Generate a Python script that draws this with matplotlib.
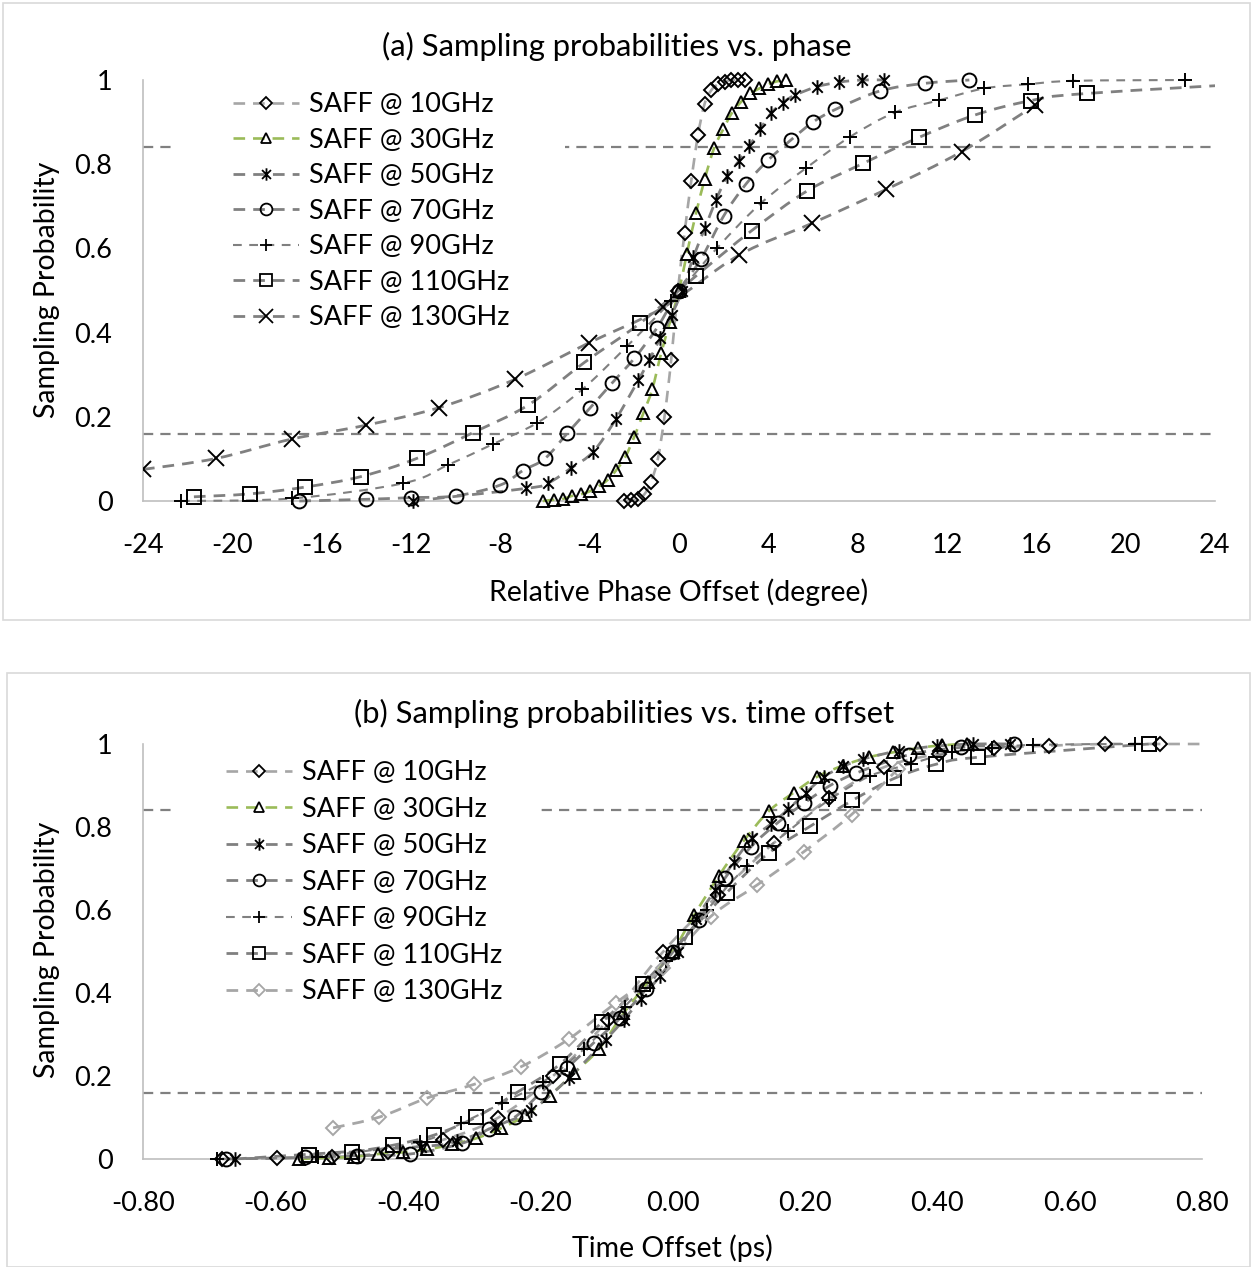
import numpy as np
import matplotlib
matplotlib.use("Agg")
import matplotlib.pyplot as plt
from matplotlib.path import Path
from matplotlib.patches import PathPatch, Rectangle
from matplotlib.lines import Line2D

plt.rcParams['font.family'] = ['Lato', 'DejaVu Sans']
plt.rcParams['axes.unicode_minus'] = False

# ---------------- data ----------------
freqs_ghz = [10, 30, 50, 70, 90, 110, 130]

phase_10 = [-2.45, -2.15, -1.85, -1.55, -1.25, -0.95, -0.65, -0.35, -0.05, 0.25,
            0.55, 0.85, 1.15, 1.45, 1.75, 2.05, 2.35, 2.65, 2.95]
prob_10 = [0.0, 0.002, 0.005, 0.016, 0.046, 0.099, 0.2, 0.335, 0.5, 0.637,
           0.761, 0.869, 0.944, 0.976, 0.99, 0.996, 1.0, 1.0, 1.0]

phase_30 = [-6.1, -5.6, -5.2, -4.8, -4.4, -4.0, -3.6, -3.2, -2.8, -2.4, -2.0,
            -1.6, -1.2, -0.8, -0.4, 0.0, 0.35, 0.76, 1.16, 1.57, 1.98, 2.36,
            2.78, 3.2, 3.6, 4.0, 4.4, 4.8]
prob_30 = [0.0, 0.003, 0.005, 0.012, 0.016, 0.023, 0.035, 0.05, 0.074, 0.105,
           0.153, 0.208, 0.265, 0.351, 0.426, 0.5, 0.587, 0.683, 0.766, 0.838,
           0.883, 0.921, 0.948, 0.968, 0.98, 0.99, 0.997, 1.0]

phase_50 = [-11.9, -6.83, -5.85, -4.84, -3.84, -2.82, -1.82, -1.33, -0.85,
            -0.33, 0.15, 0.64, 1.16, 1.66, 2.17, 2.69, 3.15, 3.63, 4.12, 4.64,
            5.19, 6.17, 7.18, 8.18, 9.18]
prob_50 = [0.0, 0.03, 0.043, 0.078, 0.117, 0.195, 0.287, 0.335, 0.386, 0.442,
           0.5, 0.579, 0.648, 0.715, 0.773, 0.808, 0.843, 0.883, 0.921, 0.946,
           0.964, 0.984, 0.995, 1.0, 1.0]

phase_70 = [-17, -14, -12, -10, -8, -7, -6, -5, -4, -3, -2, -1, 0, 1, 2, 3, 4,
            5, 6, 7, 9, 11, 13]
prob_70 = [0.0, 0.004, 0.008, 0.012, 0.038, 0.072, 0.101, 0.161, 0.22, 0.28,
           0.339, 0.41, 0.5, 0.576, 0.677, 0.753, 0.81, 0.857, 0.9, 0.93,
           0.974, 0.992, 1.0]

phase_90 = [-22.3, -17.35, -12.35, -10.33, -8.34, -6.34, -4.33, -2.34, -0.34,
            1.69, 3.66, 5.67, 7.66, 9.67, 11.66, 13.66, 15.64, 17.66, 22.66]
prob_90 = [0.0, 0.006, 0.042, 0.086, 0.135, 0.186, 0.265, 0.367, 0.476, 0.6,
           0.707, 0.79, 0.865, 0.923, 0.952, 0.98, 0.99, 0.998, 1.0]

phase_110 = [-21.72, -19.2, -16.75, -14.24, -11.75, -9.24, -6.75, -4.24,
             -1.75, 0.75, 3.25, 5.75, 8.25, 10.76, 13.26, 15.75, 18.26, 28.5]
prob_110 = [0.01, 0.017, 0.033, 0.058, 0.101, 0.162, 0.228, 0.329, 0.422,
            0.534, 0.642, 0.737, 0.802, 0.864, 0.917, 0.951, 0.968, 1.0]

phase_130 = [-24.0, -20.73, -17.35, -14.02, -10.73, -7.34, -4.02, -0.7, 2.69,
             5.97, 9.27, 12.66, 15.94]
prob_130 = [0.075, 0.101, 0.147, 0.18, 0.222, 0.289, 0.376, 0.46, 0.584,
            0.66, 0.74, 0.83, 0.94]

phases = [phase_10, phase_30, phase_50, phase_70, phase_90, phase_110, phase_130]
probs = [prob_10, prob_30, prob_50, prob_70, prob_90, prob_110, prob_130]

# 16% / 84% reference levels
ref_levels = [0.16, 0.84]

phase_ticks = list(range(-24, 25, 4))
time_ticks = [-0.8, -0.6, -0.4, -0.2, 0.0, 0.2, 0.4, 0.6, 0.8]
prob_ticks = [0, 0.2, 0.4, 0.6, 0.8, 1.0]
prob_ticklabels = ["0", "0.2", "0.4", "0.6", "0.8", "1"]

# ---------------- styles ----------------
W, H = 1253, 1267
GRAY = "#808080"
LIGHT = "#A6A6A6"
GREEN = "#9BBB59"
TICK_FS = 19.5
LEG_FS = 19.5
LABEL_FS = 20.5
TITLE_FS = 22.3

star = Path([(0, -1), (0, 1), (-0.72, -0.72), (0.72, 0.72), (-0.72, 0.72), (0.72, -0.72)],
            [Path.MOVETO, Path.LINETO, Path.MOVETO, Path.LINETO, Path.MOVETO, Path.LINETO])

series_style = [
    dict(color=LIGHT, lw=1.9, dash=(4.4, 3.0), marker="D", ms=7),
    dict(color=GREEN, lw=1.9, dash=(4.4, 3.0), marker="^", ms=9),
    dict(color=GRAY, lw=2.0, dash=(4.2, 2.9), marker=star, ms=10.5),
    dict(color=GRAY, lw=2.0, dash=(4.2, 2.9), marker="o", ms=10),
    dict(color=GRAY, lw=1.5, dash=(4.2, 3.6), marker="+", ms=10.5),
    dict(color=GRAY, lw=2.0, dash=(4.2, 2.9), marker="s", ms=10),
    dict(color=GRAY, lw=2.0, dash=(4.2, 2.9), marker="x", ms=12),
]


def smooth_path(x, y):
    """Cubic Bezier path through the points (Catmull-Rom style smoothing)."""
    pts = np.column_stack([x, y]).astype(float)
    n = len(pts)
    verts = [pts[0]]
    codes = [Path.MOVETO]
    for i in range(n - 1):
        p0 = pts[i - 1] if i > 0 else pts[i]
        p1 = pts[i]
        p2 = pts[i + 1]
        p3 = pts[i + 2] if i + 2 < n else pts[i + 1]
        verts += [p1 + (p2 - p0) / 6.0, p2 - (p3 - p1) / 6.0, p2]
        codes += [Path.CURVE4] * 3
    return Path(verts, codes)


def to_ps(phase_deg, f_ghz):
    return np.asarray(phase_deg, float) * 1000.0 / (360.0 * f_ghz)


fig = plt.figure(figsize=(W / 100, H / 100), dpi=100)

# chart-area borders
fig.patches.append(Rectangle((3 / W, 1 - 620 / H), 1247 / W, 617 / H,
                             transform=fig.transFigure, fill=False,
                             edgecolor="#D9D9D9", linewidth=1.2))
fig.patches.append(Rectangle((7 / W, 0), 1243 / W, 1 - 673 / H,
                             transform=fig.transFigure, fill=False,
                             edgecolor="#D9D9D9", linewidth=1.2))


def setup_axes(rect_px, xlim, xticks, xticklabels):
    l, t, r, b = rect_px
    ax = fig.add_axes([l / W, 1 - b / H, (r - l) / W, (b - t) / H])
    ax.set_xlim(*xlim)
    ax.set_ylim(0, 1)
    for s in ("top", "right"):
        ax.spines[s].set_visible(False)
    for s in ("left", "bottom"):
        ax.spines[s].set_color("#BFBFBF")
        ax.spines[s].set_linewidth(1.2)
    ax.set_xticks(xticks)
    ax.set_xticklabels(xticklabels)
    ax.set_yticks(prob_ticks)
    ax.set_yticklabels(prob_ticklabels)
    ax.tick_params(axis="both", length=0, labelsize=TICK_FS)
    ax.tick_params(axis="y", pad=22)
    ax.tick_params(axis="x", pad=23)
    return ax


def draw_panel(ax, xs_list, marker_overrides, legend_xy, spacing, cover):
    clip = Rectangle((0, -0.05), 1, 1.1, transform=ax.transAxes)
    x0, x1 = ax.get_xlim()
    for lvl in ref_levels:
        ax.plot([x0, x1], [lvl, lvl], color=GRAY, lw=1.6,
                linestyle=(0, (4.6, 3.2)), zorder=1)
    # white area behind the legend
    ax.add_patch(Rectangle((cover[0], 0.39), cover[1] - cover[0], 0.62,
                           transform=ax.transAxes, facecolor="white",
                           edgecolor="none", zorder=2))
    handles = []
    for i, (xs, ys) in enumerate(zip(xs_list, probs)):
        st = dict(series_style[i])
        st.update(marker_overrides.get(i, {}))
        patch = PathPatch(smooth_path(xs, ys), fill=False, edgecolor=st["color"],
                          linewidth=st["lw"], linestyle=(0, st["dash"]), zorder=3)
        ax.add_patch(patch)
        patch.set_clip_path(clip)
        pts, = ax.plot(xs, ys, linestyle="none", marker=st["marker"],
                       markersize=st["ms"], markerfacecolor="none",
                       markeredgecolor=st.get("mec", "black"),
                       markeredgewidth=1.4, zorder=4, clip_on=True)
        pts.set_clip_path(clip)
        handles.append(Line2D([], [], color=st["color"], lw=st["lw"],
                              linestyle=(0, st["dash"]), marker=st["marker"],
                              markersize=st["ms"] * 0.85, markerfacecolor="none",
                              markeredgecolor=st.get("mec", "black"),
                              markeredgewidth=1.3))
    labels = [f"SAFF @ {f}GHz" for f in freqs_ghz]
    leg = fig.legend(handles, labels, loc="upper left",
                     bbox_to_anchor=(legend_xy[0] / W, 1 - legend_xy[1] / H),
                     frameon=False, fontsize=LEG_FS, handlelength=2.45,
                     handletextpad=0.36, labelspacing=spacing, borderpad=0,
                     borderaxespad=0)
    return leg


# ---------------- (a) phase ----------------
ax1 = setup_axes((143, 80, 1215, 501), (-24, 24), phase_ticks,
                 [str(v) for v in phase_ticks])
draw_panel(ax1, phases, {}, (233, 92), 0.39,
           ((175 - 143) / 1072, (565 - 143) / 1072))
fig.text(617 / W, 1 - 46 / H, "(a) Sampling probabilities vs. phase",
         ha="center", va="center", fontsize=TITLE_FS)
fig.text(679 / W, 1 - 592 / H, "Relative Phase Offset (degree)",
         ha="center", va="center", fontsize=LABEL_FS)
fig.text(47 / W, 1 - 290 / H, "Sampling Probability", rotation=90,
         ha="center", va="center", fontsize=LABEL_FS)

# ---------------- (b) time offset ----------------
times = [to_ps(p, f) for p, f in zip(phases, freqs_ghz)]
ax2 = setup_axes((143, 744, 1202, 1159), (-0.8, 0.8), time_ticks,
                 [f"{v:.2f}" for v in time_ticks])
draw_panel(ax2, times, {6: dict(marker="D", ms=7, mec=LIGHT, color=LIGHT)},
           (226, 760), 0.425, ((175 - 143) / 1059, (535 - 143) / 1059))
fig.text(624 / W, 1 - 713 / H, "(b) Sampling probabilities vs. time offset",
         ha="center", va="center", fontsize=TITLE_FS)
fig.text(672 / W, 1 - 1248 / H, "Time Offset (ps)",
         ha="center", va="center", fontsize=LABEL_FS)
fig.text(47 / W, 1 - 950 / H, "Sampling Probability", rotation=90,
         ha="center", va="center", fontsize=LABEL_FS)

fig.savefig("out.png", dpi=100)
